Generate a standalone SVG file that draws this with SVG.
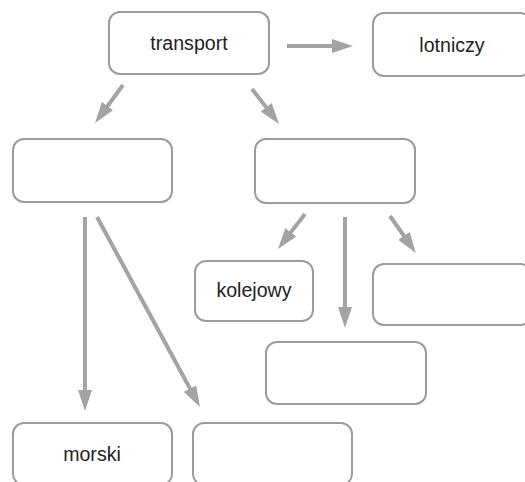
<svg xmlns="http://www.w3.org/2000/svg" width="525" height="482" viewBox="0 0 525 482">
<style>
.box{fill:#fff;stroke:#9b9b9b;stroke-width:2}
.lbl{font-family:"Liberation Sans",Arial,sans-serif;font-size:19.6px;fill:#222;text-anchor:middle}
.con{stroke:#a3a3a3;stroke-width:4;fill:none;marker-end:url(#ah)}
</style>
<defs>
<marker id="ah" markerUnits="userSpaceOnUse" markerWidth="21" markerHeight="15" refX="2" refY="7.5" orient="auto">
<path d="M0,0.5 L21,7.5 L0,14.5 z" fill="#a3a3a3"/>
</marker>
</defs>
<rect width="525" height="482" fill="#fff"/>
<g id="connectors">
<line class="con" x1="287" y1="46" x2="334" y2="46"/>
<line class="con" x1="123" y1="85" x2="106.3" y2="107.7"/>
<line class="con" x1="252" y1="89" x2="267.4" y2="108.9"/>
<line class="con" x1="85" y1="217" x2="85" y2="392"/>
<line class="con" x1="97" y1="217" x2="190.9" y2="390.3"/>
<line class="con" x1="305" y1="214" x2="289.6" y2="233.9"/>
<line class="con" x1="345" y1="217" x2="345" y2="309"/>
<line class="con" x1="390" y1="216" x2="405" y2="237.5"/>
</g>
<g id="n-transport"><rect class="box" x="109" y="12" width="160" height="62" rx="11"/><text class="lbl" x="189" y="50">transport</text></g>
<g id="n-lotniczy"><rect class="box" x="373" y="13" width="158" height="63" rx="11"/><text class="lbl" x="452" y="52">lotniczy</text></g>
<g id="n-left"><rect class="box" x="13" y="139" width="159" height="63" rx="11"/></g>
<g id="n-middle"><rect class="box" x="255" y="139" width="160" height="64" rx="11"/></g>
<g id="n-kolejowy"><rect class="box" x="195" y="261" width="118" height="60" rx="11"/><text class="lbl" x="254" y="297">kolejowy</text></g>
<g id="n-right"><rect class="box" x="373" y="264" width="158" height="61" rx="11"/></g>
<g id="n-midlow"><rect class="box" x="266" y="342" width="160" height="62" rx="11"/></g>
<g id="n-morski"><rect class="box" x="13" y="423" width="159" height="62" rx="11"/><text class="lbl" x="92" y="461">morski</text></g>
<g id="n-bottom"><rect class="box" x="193" y="423" width="159" height="62" rx="11"/></g>
</svg>
